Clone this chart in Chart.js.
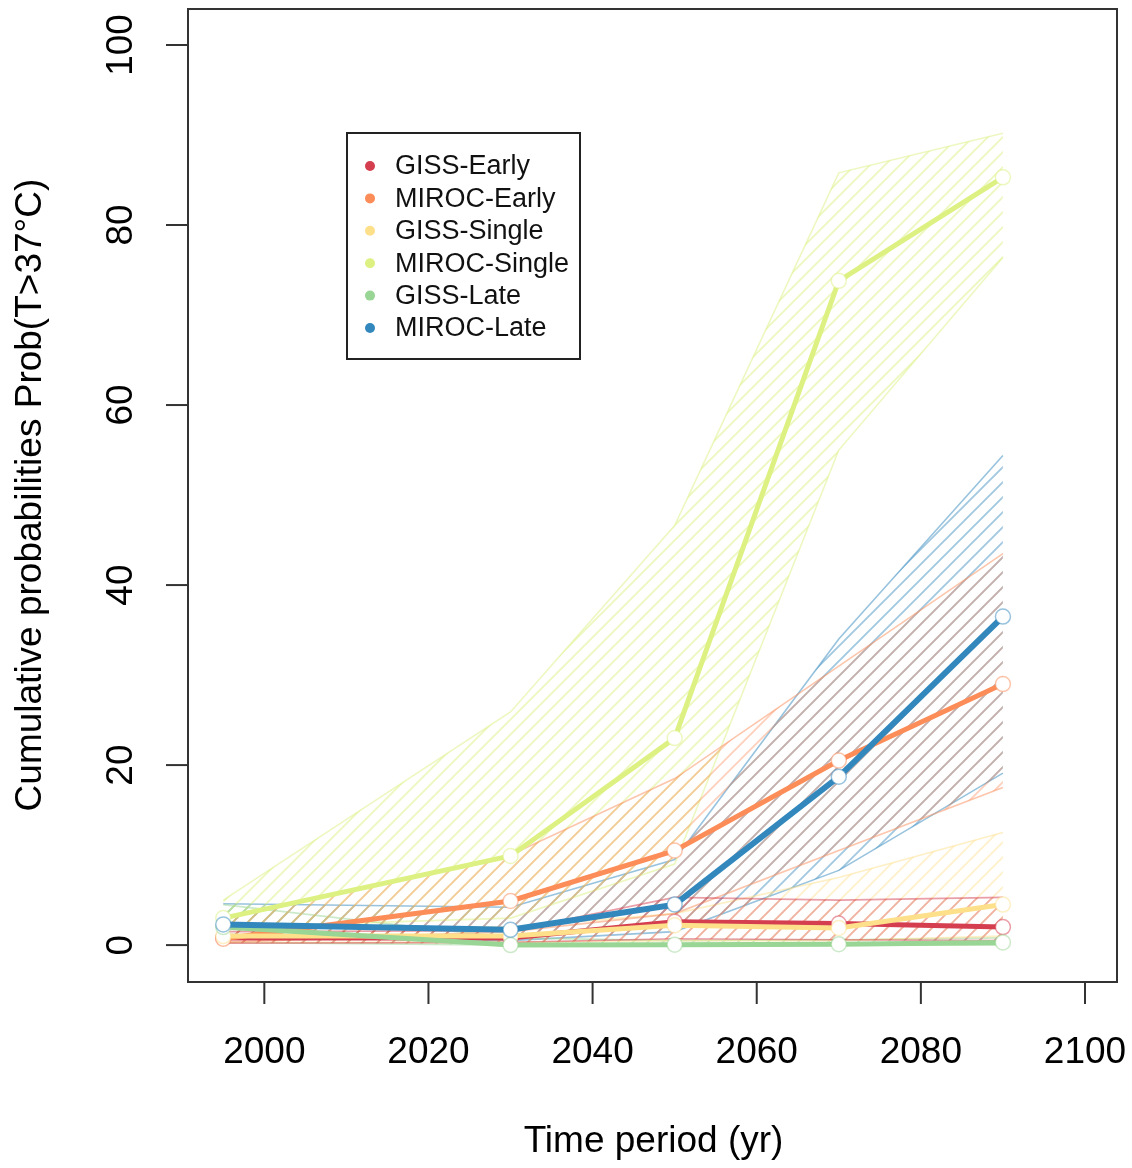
<!DOCTYPE html>
<html>
<head>
<meta charset="utf-8">
<script src="https://cdn.jsdelivr.net/npm/chart.js@4/dist/chart.umd.min.js"></script>
<style>
  html, body { margin: 0; padding: 0; background: #fff; }
  canvas { display: block; }
</style>
</head>
<body>
<canvas id="probChart" width="1132" height="1168"></canvas>
<script>
// time periods (x) and axis ticks
const years = [1995, 2030, 2050, 2070, 2090];
const xTicks = [2000, 2020, 2040, 2060, 2080, 2100];
const yTicks = [0, 20, 40, 60, 80, 100];

const seriesNames = ["GISS-Early", "MIROC-Early", "GISS-Single", "MIROC-Single", "GISS-Late", "MIROC-Late"];

// central estimate, upper and lower bound for each run
const gissEarlyMid = [0.8, 0.8, 2.6, 2.4, 2.0];
const gissEarlyHi  = [1.5, 1.6, 5.3, 5.0, 5.3];
const gissEarlyLo  = [0.2, 0.3, 0.7, 0.6, 0.5];

const mirocEarlyMid = [0.7, 4.9, 10.5, 20.5, 29.0];
const mirocEarlyHi  = [3.0, 10.0, 18.5, 31.0, 43.5];
const mirocEarlyLo  = [0.3, 1.5, 3.5, 10.5, 17.5];

const gissSingleMid = [1.0, 1.0, 2.2, 1.9, 4.5];
const gissSingleHi  = [2.0, 2.0, 3.5, 7.5, 12.5];
const gissSingleLo  = [0.3, 0.3, 0.5, 0.5, 1.0];

const mirocSingleMid = [3.0, 9.9, 23.0, 73.8, 85.3];
const mirocSingleHi  = [5.0, 25.9, 46.6, 85.8, 90.2];
const mirocSingleLo  = [2.0, 3.0, 9.0, 55.0, 76.4];

const gissLateMid = [2.0, 0.0, 0.05, 0.1, 0.3];
const gissLateHi  = [4.5, 0.8, 0.5, 0.6, 0.8];
const gissLateLo  = [0.3, 0.0, 0.0, 0.0, 0.0];

const mirocLateMid = [2.3, 1.7, 4.5, 18.7, 36.5];
const mirocLateHi  = [4.6, 4.2, 9.5, 34.0, 54.4];
const mirocLateLo  = [1.2, 0.5, 1.5, 8.3, 19.1];

const mids = [gissEarlyMid, mirocEarlyMid, gissSingleMid, mirocSingleMid, gissLateMid, mirocLateMid];
const highs = [gissEarlyHi, mirocEarlyHi, gissSingleHi, mirocSingleHi, gissLateHi, mirocLateHi];
const lows = [gissEarlyLo, mirocEarlyLo, gissSingleLo, mirocSingleLo, gissLateLo, mirocLateLo];

const rgb = ["213,62,79", "252,141,89", "254,224,139", "220,241,130", "153,213,148", "50,136,189"];
const hatchAlpha = [0.35, 0.4, 0.45, 0.5, 0.45, 0.45];
const lineWidths = [5, 5, 5, 5, 5, 6];

const FONT = '"Liberation Sans", Arial, sans-serif';

function hatch(color) {
    const s = 15;
    const c = document.createElement('canvas');
    c.width = s; c.height = s;
    const g = c.getContext('2d');
    g.strokeStyle = color;
    g.lineWidth = 1.9;
    g.beginPath();
    g.moveTo(0, s); g.lineTo(s, 0);
    g.moveTo(-s / 2, s / 2); g.lineTo(s / 2, -s / 2);
    g.moveTo(s / 2, s * 1.5); g.lineTo(s * 1.5, s / 2);
    g.stroke();
    return g.createPattern(c, 'repeat');
}

function pts(arr) {
    return years.map((yr, i) => ({ x: yr, y: arr[i] }));
}

let datasets = [];
for (let i = 0; i < seriesNames.length; i++) {
    const pat = hatch(`rgba(${rgb[i]},${hatchAlpha[i]})`);
    datasets.push({
        label: seriesNames[i] + " upper",
        data: pts(highs[i]),
        borderColor: `rgba(${rgb[i]},0.5)`,
        borderWidth: 1.6,
        pointRadius: 0,
        fill: { target: '+1', above: pat, below: pat },
        order: 100 + i
    });
    datasets.push({
        label: seriesNames[i] + " lower",
        data: pts(lows[i]),
        borderColor: `rgba(${rgb[i]},0.5)`,
        borderWidth: 1.6,
        pointRadius: 0,
        fill: false,
        order: 100 + i
    });
}
for (let i = 0; i < seriesNames.length; i++) {
    datasets.push({
        label: seriesNames[i],
        data: pts(mids[i]),
        borderColor: `rgb(${rgb[i]})`,
        borderWidth: lineWidths[i],
        pointRadius: 7.5,
        pointBorderWidth: 1.5,
        pointBackgroundColor: '#ffffff',
        pointBorderColor: `rgba(${rgb[i]},0.5)`,
        fill: false,
        order: 20 - i
    });
}

const frame = {
    id: 'frame',
    afterDraw(chart) {
        const ctx = chart.ctx;
        const a = chart.chartArea;
        const xs = chart.scales.x, ys = chart.scales.y;
        ctx.save();
        ctx.strokeStyle = '#333';
        ctx.lineWidth = 2;
        ctx.strokeRect(a.left, a.top, a.right - a.left, a.bottom - a.top);

        ctx.fillStyle = '#000';
        ctx.font = '37px ' + FONT;
        ctx.textAlign = 'center';
        ctx.textBaseline = 'middle';
        xTicks.forEach(v => {
            const px = xs.getPixelForValue(v);
            ctx.beginPath();
            ctx.moveTo(px, a.bottom);
            ctx.lineTo(px, a.bottom + 22);
            ctx.stroke();
            ctx.fillText(String(v), px, 1053);
        });
        yTicks.forEach(v => {
            const py = ys.getPixelForValue(v);
            ctx.beginPath();
            ctx.moveTo(a.left, py);
            ctx.lineTo(a.left - 22, py);
            ctx.stroke();
            ctx.save();
            ctx.translate(122, py);
            ctx.rotate(-Math.PI / 2);
            ctx.fillText(String(v), 0, 0);
            ctx.restore();
        });

        ctx.font = '37px ' + FONT;
        ctx.fillText('Time period (yr)', (a.left + a.right) / 2 + 1, 1142);
        ctx.save();
        ctx.translate(31, 495);
        ctx.rotate(-Math.PI / 2);
        ctx.fillText('Cumulative probabilities Prob(T>37\u00B0C)', 0, 0);
        ctx.restore();

        // legend box
        ctx.fillStyle = '#fff';
        ctx.fillRect(347, 133, 233, 226);
        ctx.strokeStyle = '#222';
        ctx.lineWidth = 2;
        ctx.strokeRect(347, 133, 233, 226);
        ctx.font = '27px ' + FONT;
        ctx.textAlign = 'left';
        seriesNames.forEach((name, i) => {
            const y = 166 + i * 32.4;
            ctx.fillStyle = `rgb(${rgb[i]})`;
            ctx.beginPath();
            ctx.arc(370, y, 5, 0, Math.PI * 2);
            ctx.fill();
            ctx.fillStyle = '#111';
            ctx.fillText(name, 395, y + 1);
        });
        ctx.restore();
    }
};

new Chart(document.getElementById('probChart'), {
    type: 'line',
    data: { datasets: datasets },
    options: {
        responsive: false,
        animation: false,
        devicePixelRatio: 1,
        layout: { padding: { left: 188, top: 8, right: 15, bottom: 186 } },
        plugins: {
            legend: { display: false },
            tooltip: { enabled: false },
            filler: { propagate: false }
        },
        scales: {
            x: { type: 'linear', min: 1990.7, max: 2103.9, display: false },
            y: { min: -4.1, max: 104, display: false }
        }
    },
    plugins: [frame]
});
</script>
</body>
</html>
